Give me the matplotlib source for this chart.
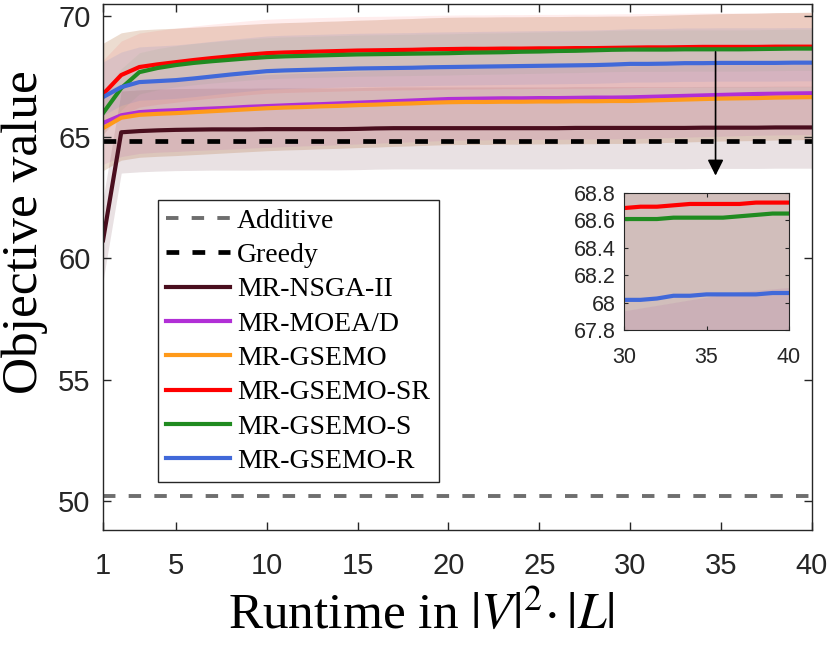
import matplotlib
matplotlib.use("Agg")
import matplotlib.pyplot as plt
import numpy as np

plt.rcParams['font.family'] = ['Liberation Serif', 'DejaVu Serif']
plt.rcParams['mathtext.fontset'] = 'stix'

# --- data ---
runtime = list(range(1, 41))

nsga2 = [60.75, 65.20, 65.25, 65.28, 65.30, 65.31, 65.32, 65.32, 65.32, 65.33,
         65.33, 65.33, 65.33, 65.33, 65.34, 65.36, 65.37, 65.37, 65.37, 65.37,
         65.37, 65.37, 65.37, 65.37, 65.37, 65.37, 65.38, 65.38, 65.38, 65.38,
         65.38, 65.38, 65.38, 65.39, 65.39, 65.39, 65.39, 65.40, 65.40, 65.40]
moead = [65.58, 65.90, 66.03, 66.08, 66.11, 66.15, 66.18, 66.21, 66.25, 66.28,
         66.31, 66.34, 66.36, 66.39, 66.42, 66.45, 66.48, 66.51, 66.54, 66.57,
         66.58, 66.59, 66.60, 66.60, 66.61, 66.61, 66.62, 66.63, 66.63, 66.64,
         66.66, 66.68, 66.70, 66.72, 66.74, 66.76, 66.78, 66.79, 66.80, 66.81]
gsemo = [65.37, 65.80, 65.92, 65.96, 65.99, 66.03, 66.07, 66.11, 66.15, 66.19,
         66.22, 66.24, 66.27, 66.29, 66.32, 66.34, 66.37, 66.39, 66.42, 66.44,
         66.45, 66.45, 66.46, 66.46, 66.47, 66.47, 66.48, 66.48, 66.49, 66.49,
         66.51, 66.53, 66.55, 66.57, 66.59, 66.60, 66.61, 66.63, 66.64, 66.65]
gsemo_sr = [66.77, 67.56, 67.89, 68.00, 68.09, 68.18, 68.26, 68.33, 68.40, 68.46,
            68.49, 68.51, 68.53, 68.55, 68.57, 68.58, 68.59, 68.60, 68.62, 68.63,
            68.64, 68.64, 68.65, 68.65, 68.66, 68.66, 68.67, 68.67, 68.68, 68.69,
            68.70, 68.70, 68.71, 68.72, 68.72, 68.72, 68.72, 68.73, 68.73, 68.73]
gsemo_s = [65.99, 67.02, 67.68, 67.85, 67.97, 68.06, 68.13, 68.19, 68.25, 68.30,
           68.33, 68.35, 68.37, 68.39, 68.41, 68.42, 68.43, 68.44, 68.45, 68.46,
           68.48, 68.49, 68.50, 68.52, 68.53, 68.55, 68.56, 68.58, 68.60, 68.61,
           68.61, 68.61, 68.62, 68.62, 68.62, 68.62, 68.63, 68.64, 68.65, 68.65]
gsemo_r = [66.65, 67.06, 67.27, 67.31, 67.35, 67.42, 67.50, 67.58, 67.65, 67.72,
           67.75, 67.77, 67.79, 67.81, 67.83, 67.84, 67.85, 67.86, 67.88, 67.89,
           67.90, 67.91, 67.92, 67.93, 67.94, 67.95, 67.96, 67.97, 67.99, 68.02,
           68.02, 68.03, 68.05, 68.05, 68.06, 68.06, 68.06, 68.06, 68.07, 68.07]

# spread of each algorithm around its mean (below, above)
band_nsga2 = (1.68, 1.70)
band_moead = (1.70, 1.30)
band_gsemo = (1.75, 3.50)
band_gsemo_sr = (1.65, 1.40)
band_gsemo_s = (0.90, 0.80)
band_gsemo_r = (0.75, 1.45)

additive = 50.2
greedy = 64.86

names = ['MR-NSGA-II', 'MR-MOEA/D', 'MR-GSEMO', 'MR-GSEMO-SR', 'MR-GSEMO-S', 'MR-GSEMO-R']
means = [nsga2, moead, gsemo, gsemo_sr, gsemo_s, gsemo_r]
bands = [band_nsga2, band_moead, band_gsemo, band_gsemo_sr, band_gsemo_s, band_gsemo_r]
colors = ['#4a0e1e', '#b12fd6', '#ff9a1a', '#ff0000', '#208b20', '#4169d9']
band_colors = ['#4a0e1e', '#b12fd6', '#b8794a', '#ff0000', '#208b20', '#4169d9']
band_alphas = [0.12, 0.11, 0.26, 0.07, 0.05, 0.10]


def draw_series(ax, lw):
    x = np.array(runtime)
    for m, (lo, hi), c, a in zip(means, bands, band_colors, band_alphas):
        m = np.array(m)
        ax.fill_between(x, m - lo, m + hi, color=c, alpha=a, lw=0)
    handles = []
    for m, c, n in zip(means, colors, names):
        h, = ax.plot(x, m, color=c, lw=lw, label=n, solid_joinstyle='round')
        handles.append(h)
    return handles


fig = plt.figure(figsize=(8.31, 6.45), dpi=100)
ax = fig.add_axes([0.124, 0.178, 0.853, 0.8155])

h_add = ax.axhline(additive, color='#6e6e6e', lw=2.8, ls=(0, (3.2, 3.4)), label='Additive')
h_gr = ax.axhline(greedy, color='black', lw=3.4, ls=(0, (2.7, 2.8)), label='Greedy')
handles = draw_series(ax, 3.0)

ax.set_xlim(1, 40)
ax.set_ylim(48.8, 70.48)
ax.set_xticks([1, 5, 10, 15, 20, 25, 30, 35, 40])
ax.set_yticks([50, 55, 60, 65, 70])
ax.tick_params(direction='in', top=True, right=True, length=6, width=1, colors='#262626')
ax.tick_params(axis='x', pad=16)
ax.tick_params(axis='y', pad=9)
for lab in ax.get_xticklabels() + ax.get_yticklabels():
    lab.set_fontfamily(['Liberation Sans', 'DejaVu Sans'])
    lab.set_fontsize(21)
for sp in ax.spines.values():
    sp.set_color('#262626')
    sp.set_linewidth(1.0)

ax.set_ylabel('Objective value', fontsize=37)
ax.yaxis.set_label_coords(-0.078, 0.567)
ax.set_xlabel(r'Runtime in $|V|^{2}\!\cdot|L|$', fontsize=37)
ax.xaxis.set_label_coords(0.449, -0.115)

leg = fig.legend(handles=[h_add, h_gr] + handles, loc='upper left',
                 bbox_to_anchor=(158 / 831, 1 - 200 / 645), borderaxespad=0,
                 fontsize=20, handlelength=2.3, handletextpad=0.25,
                 labelspacing=0.32, borderpad=0.3, fancybox=False, framealpha=1)
leg.get_frame().set_edgecolor('#262626')
leg.get_frame().set_linewidth(1.0)

# arrow pointing to the zoomed area
ax.annotate('', xy=(34.7, 63.3), xytext=(34.7, 68.63),
            arrowprops=dict(arrowstyle='-|>', color='black', lw=1.2, mutation_scale=24))

# inset
ins = fig.add_axes([624 / 831, 1 - 330 / 645, 165 / 831, 137 / 645])
draw_series(ins, 3.0)
ins.set_xlim(30, 40)
ins.set_ylim(67.8, 68.8)
ins.set_xticks([30, 35, 40])
ins.set_yticks([67.8, 68.0, 68.2, 68.4, 68.6, 68.8])
ins.set_yticklabels(['67.8', '68', '68.2', '68.4', '68.6', '68.8'])
ins.tick_params(direction='in', top=True, right=True, length=3, width=0.8,
                colors='#262626', labelsize=15.5)
ins.tick_params(axis='x', pad=12)
ins.tick_params(axis='y', pad=6)
for lab in ins.get_xticklabels() + ins.get_yticklabels():
    lab.set_fontfamily(['Liberation Sans', 'DejaVu Sans'])
for sp in ins.spines.values():
    sp.set_color('#262626')
    sp.set_linewidth(0.8)

fig.savefig('out.png', dpi=100)
